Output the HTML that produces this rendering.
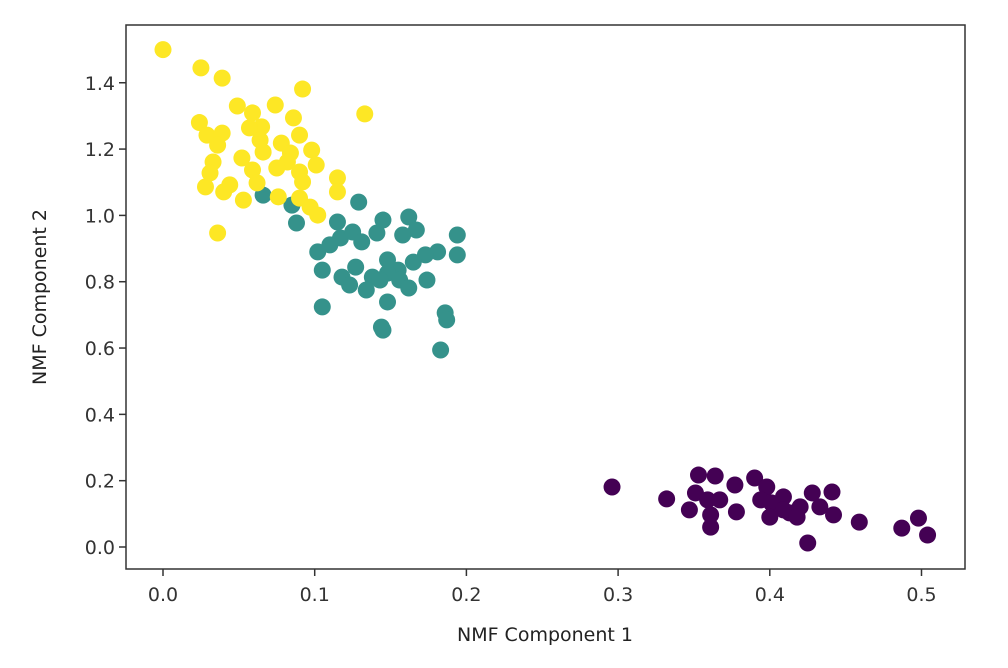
<!DOCTYPE html>
<html><head><meta charset="utf-8"><style>
html,body{margin:0;padding:0;background:#fff;}
svg{display:block;font-family:"DejaVu Sans","Liberation Sans",sans-serif;}
</style></head><body>
<svg id="chart" width="1008" height="668">
<rect x="0" y="0" width="1008" height="668" fill="#fff"/>
<g id="points"></g>
<g id="axes"></g>
<text x="545" y="641" font-size="19" fill="#222" text-anchor="middle">NMF Component 1</text>
<text transform="translate(46,297) rotate(-90)" font-size="19" fill="#222" text-anchor="middle">NMF Component 2</text>
</svg>
<script>
const xTicks = [0.0, 0.1, 0.2, 0.3, 0.4, 0.5];
const yTicks = [0.0, 0.2, 0.4, 0.6, 0.8, 1.0, 1.2, 1.4];
const yellowX = [0.0,0.025,0.039,0.092,0.133,0.049,0.074,0.086,0.024,0.059,0.065,0.057,0.090,0.029,0.039,0.036,0.064,0.078,0.098,0.066,0.052,0.084,0.101,0.033,0.082,0.059,0.075,0.090,0.115,0.031,0.028,0.062,0.044,0.040,0.092,0.115,0.053,0.076,0.090,0.097,0.102,0.036];
const yellowY = [1.50,1.445,1.414,1.381,1.306,1.33,1.333,1.294,1.28,1.309,1.267,1.264,1.242,1.242,1.248,1.212,1.227,1.218,1.197,1.191,1.173,1.188,1.152,1.161,1.161,1.137,1.143,1.131,1.113,1.128,1.086,1.098,1.092,1.071,1.101,1.071,1.046,1.056,1.052,1.025,1.001,0.947];
const tealX = [0.066,0.085,0.088,0.129,0.115,0.102,0.110,0.117,0.125,0.131,0.141,0.145,0.162,0.167,0.158,0.194,0.194,0.181,0.173,0.165,0.155,0.148,0.138,0.127,0.118,0.123,0.134,0.143,0.156,0.162,0.174,0.105,0.148,0.105,0.145,0.144,0.186,0.187,0.183,0.148];
const tealY = [1.061,1.031,0.977,1.040,0.980,0.890,0.911,0.932,0.950,0.920,0.947,0.986,0.995,0.956,0.941,0.941,0.881,0.890,0.881,0.859,0.835,0.826,0.814,0.844,0.814,0.790,0.775,0.805,0.805,0.781,0.805,0.835,0.739,0.724,0.654,0.663,0.706,0.685,0.594,0.866];
const purpleX = [0.296,0.332,0.353,0.364,0.347,0.351,0.359,0.367,0.377,0.378,0.361,0.361,0.390,0.398,0.394,0.401,0.400,0.409,0.413,0.409,0.420,0.428,0.433,0.441,0.442,0.425,0.459,0.487,0.498,0.504,0.418];
const purpleY = [0.181,0.145,0.217,0.214,0.112,0.163,0.142,0.142,0.187,0.106,0.060,0.097,0.208,0.181,0.142,0.133,0.090,0.151,0.103,0.112,0.121,0.163,0.121,0.166,0.097,0.012,0.075,0.057,0.087,0.036,0.090];

const NS = "http://www.w3.org/2000/svg";
const X0 = 163, XS = 1517, Y0 = 547, YS = 331.6;
const L = 126, R = 965, T = 25, B = 569;
function xScale(v){ return X0 + v * XS; }
function yScale(v){ return Y0 - v * YS; }
function mk(tag, attrs){ const e = document.createElementNS(NS, tag); for (const k in attrs) e.setAttribute(k, attrs[k]); return e; }

const pts = document.getElementById('points');
function series(xs, ys, color, name){
  for (let i = 0; i < xs.length; i++){
    const c = mk('circle', {cx: xScale(xs[i]), cy: yScale(ys[i]), r: 8.5, fill: color});
    
    
    pts.appendChild(c);
  }
}
series(tealX, tealY, '#35928b', 'cluster-1-point');
series(purpleX, purpleY, '#440154', 'cluster-0-point');
series(yellowX, yellowY, '#fde725', 'cluster-2-point');

const ax = document.getElementById('axes');
const frame = mk('rect', {x: L, y: T, width: R - L, height: B - T, fill: 'none', stroke: '#333', 'stroke-width': 1.5});


ax.appendChild(frame);
xTicks.forEach(v => {
  const x = xScale(v);
  const t = mk('line', {x1: x, x2: x, y1: B, y2: B + 7, stroke: '#333', 'stroke-width': 1.5});
  
  
  ax.appendChild(t);
  const lb = mk('text', {x: x, y: B + 32, 'font-size': 19, fill: '#333', 'text-anchor': 'middle'});
  lb.textContent = v.toFixed(1);
  
  
  ax.appendChild(lb);
});
yTicks.forEach(v => {
  const y = yScale(v);
  const t = mk('line', {x1: L - 7, x2: L, y1: y, y2: y, stroke: '#333', 'stroke-width': 1.5});
  
  
  ax.appendChild(t);
  const lb = mk('text', {x: L - 11, y: y + 7, 'font-size': 19, fill: '#333', 'text-anchor': 'end'});
  lb.textContent = v.toFixed(1);
  
  
  ax.appendChild(lb);
});
</script>
</body></html>
